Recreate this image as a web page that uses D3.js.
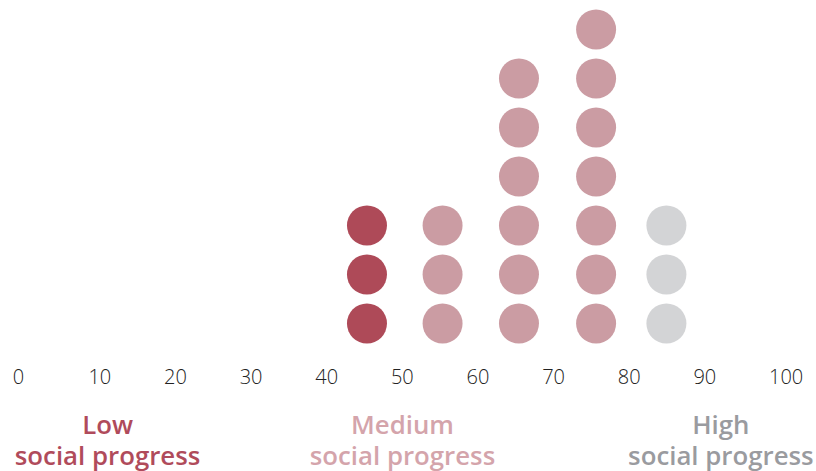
<!DOCTYPE html>
<html>
<head>
<meta charset="utf-8">
<script src="https://cdn.jsdelivr.net/npm/d3@7/dist/d3.min.js"></script>
<style>
  html, body { margin: 0; padding: 0; background: #fff; }
  svg { display: block; font-family: "Open Sans", sans-serif; }
</style>
</head>
<body>
<svg id="chart" width="816" height="471"></svg>
<script>
// Dot columns: score position and number of countries stacked there
const columnScores = [46.9, 56.9, 67.0, 77.2, 86.5];
const columnCounts = [3, 3, 6, 7, 3];
const columnGroups = ["low", "medium", "medium", "medium", "high"];

// Axis ticks
const tickValues = [0, 10, 20, 30, 40, 50, 60, 70, 80, 90, 100];

// Group labels along the bottom
const groupKeys = ["low", "medium", "high"];
const groupTitles = ["Low", "Medium", "High"];
const groupSubtitles = ["social progress", "social progress", "social progress"];
const groupLabelScores = [12.6, 51.6, 93.7];

const groupColors = { low: "#ae4a58", medium: "#cb9ca3", high: "#d3d4d6" };
const labelColors = { low: "#b04b5b", medium: "#d4a4ab", high: "#9a9b9f" };

const svg = d3.select("#chart");

const x = d3.scaleLinear().domain([0, 100]).range([12.3, 768.5]);
const y = d3.scaleLinear().domain([0, 7]).range([348, 5]);
const r = 20;

// Flatten columns into individual dots
const dots = [];
columnScores.forEach((s, i) => {
  for (let k = 0; k < columnCounts[i]; k++) {
    dots.push({ score: s, level: k, group: columnGroups[i] });
  }
});

svg.append("g")
  .selectAll("circle")
  .data(dots)
  .join("circle")
  .attr("cx", d => x(d.score))
  .attr("cy", d => y(d.level + 0.5))
  .attr("r", r)
  .attr("fill", d => groupColors[d.group]);

// Axis: labels only, no line or tick marks
const axis = d3.axisBottom(x)
  .tickValues(tickValues)
  .tickSize(0)
  .tickPadding(0);

const axisG = svg.append("g")
  .attr("transform", "translate(0,383.5)")
  .call(axis);
axisG.select(".domain").remove();
axisG.selectAll("text")
  .attr("y", 0)
  .attr("dy", 0)
  .attr("text-anchor", "start")
  .attr("fill", "#222")
  .style("font-family", "'Open Sans', sans-serif")
  .style("font-size", "20px")
  .style("font-weight", 300);

// Group labels
const labels = svg.append("g")
  .selectAll("text")
  .data(groupKeys)
  .join("text")
  .attr("x", (d, i) => x(groupLabelScores[i]))
  .attr("y", 434)
  .attr("text-anchor", "middle")
  .attr("fill", d => labelColors[d])
  .style("font-size", "25.8px")
  .style("font-weight", 600);

labels.append("tspan")
  .attr("x", (d, i) => x(groupLabelScores[i]))
  .text((d, i) => groupTitles[i]);
labels.append("tspan")
  .attr("x", (d, i) => x(groupLabelScores[i]))
  .attr("dy", 31)
  .text((d, i) => groupSubtitles[i]);
</script>
</body>
</html>
